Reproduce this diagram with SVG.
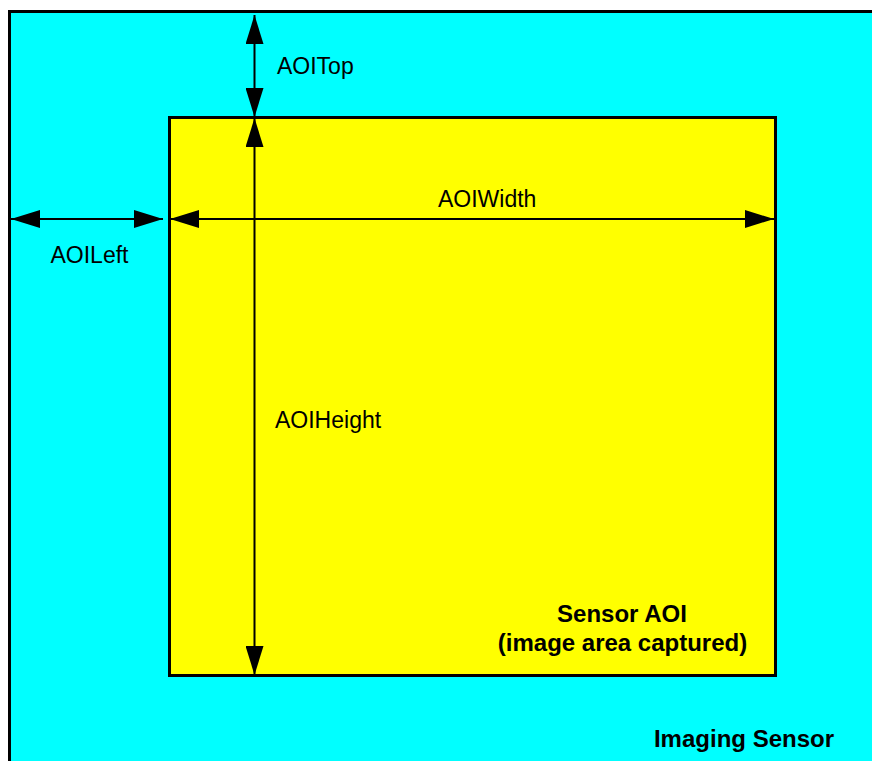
<svg xmlns="http://www.w3.org/2000/svg" width="872" height="761" viewBox="0 0 872 761">
<style>
.lbl{font-family:"Liberation Sans",Arial,sans-serif;font-size:23px;fill:#000}
.bold{font-family:"Liberation Sans",Arial,sans-serif;font-size:24px;font-weight:bold;fill:#000}
.dim{stroke:#000;stroke-width:2;fill:none;marker-start:url(#ah);marker-end:url(#ah)}
</style>
<defs>
<marker id="ah" markerUnits="userSpaceOnUse" viewBox="0 0 29 18" refX="29" refY="9" markerWidth="29" markerHeight="18" orient="auto-start-reverse">
<path d="M0,0 L29,9 L0,18 z" fill="#000"/>
</marker>
</defs>
<rect width="872" height="761" fill="#fff"/>
<g id="imaging-sensor">
<rect x="9.5" y="11.5" width="880" height="800" fill="#00FFFF" stroke="#000" stroke-width="3"/>
<text class="bold" x="834" y="747" text-anchor="end">Imaging Sensor</text>
</g>
<g id="sensor-aoi">
<rect x="169.5" y="117.5" width="606" height="558" fill="#FFFF00" stroke="#000" stroke-width="3"/>
<text class="bold" x="622" y="622" text-anchor="middle">Sensor AOI</text>
<text class="bold" x="622.5" y="651" text-anchor="middle">(image area captured)</text>
</g>
<g id="connectors">
<line class="dim" x1="254.5" y1="15" x2="254.5" y2="117"/>
<line class="dim" x1="254.5" y1="118" x2="254.5" y2="675"/>
<line class="dim" x1="11" y1="219" x2="163" y2="219"/>
<line class="dim" x1="170" y1="219" x2="774" y2="219"/>
</g>
<g id="labels">
<text class="lbl" x="277" y="74">AOITop</text>
<text class="lbl" x="50.5" y="262.5">AOILeft</text>
<text class="lbl" x="438" y="206.5">AOIWidth</text>
<text class="lbl" x="275" y="427.5">AOIHeight</text>
</g>
</svg>
